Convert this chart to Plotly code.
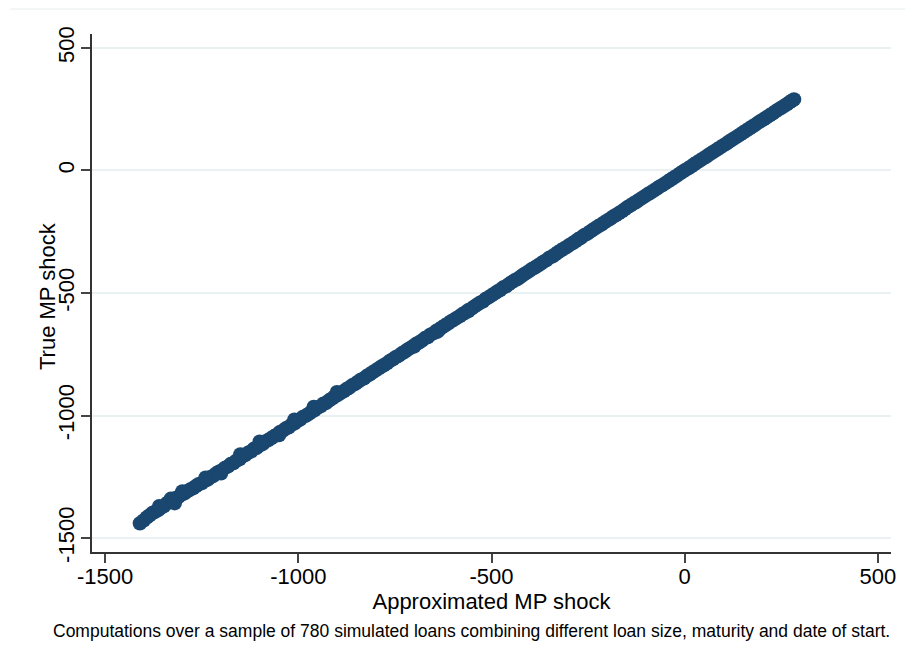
import plotly.graph_objects as go

# Approximated MP shock (x) vs True MP shock (y)
approx_shock = [
    -1410, -1400, -1392, -1385, -1378, -1370, -1362, -1355, -1348, -1340,
    -1332, -1325, -1318, -1310, -1302, -1295, -1288, -1280, -1272, -1265,
    -1258, -1250, -1242, -1235, -1228, -1220, -1212, -1205, -1198, -1190,
    -1182, -1175, -1168, -1160, -1152, -1145, -1138, -1130, -1122, -1115,
    -1108, -1100, -1092, -1085, -1078, -1070, -1062, -1055, -1048, -1040,
    -1032, -1025, -1018, -1010, -1002, -995, -988, -980, -972, -965,
    -958, -950, -942, -935, -928, -920, -912, -905, -898, -890,
    -882, -875, -868, -860, -852, -845, -838, -830, -822, -815,
    -808, -800, -792, -785, -778, -770, -762, -755, -748, -740,
    -732, -725, -718, -710, -702, -695, -688, -680, -672, -665,
    -658, -650, -642, -635, -628, -620, -612, -605, -598, -590,
    -582, -575, -568, -560, -552, -545, -538, -530, -522, -515,
    -508, -500, -492, -485, -478, -470, -462, -455, -448, -440,
    -432, -425, -418, -410, -402, -395, -388, -380, -372, -365,
    -358, -350, -342, -335, -328, -320, -312, -305, -298, -290,
    -282, -275, -268, -260, -252, -245, -238, -230, -222, -215,
    -208, -200, -192, -185, -178, -170, -162, -155, -148, -140,
    -132, -125, -118, -110, -102, -95, -88, -80, -72, -65,
    -58, -50, -42, -35, -28, -20, -12, -5, 2, 10,
    18, 25, 32, 40, 48, 55, 62, 70, 78, 85,
    92, 100, 108, 115, 122, 130, 138, 145, 152, 160,
    168, 175, 182, 190, 198, 205, 212, 220, 228, 235,
    242, 250, 258, 265, 272, 278, 283,
    -1360, -1330, -1300, -1240, -1150, -1100, -1010, -960, -900,
    -1320, -1200, -1050, -700, -640, -560,
]
true_shock = [
    -1440, -1428, -1416, -1408, -1398, -1392, -1385, -1376, -1370, -1358,
    -1353, -1345, -1338, -1332, -1322, -1318, -1310, -1302, -1296, -1288,
    -1280, -1276, -1266, -1262, -1252, -1246, -1236, -1229, -1224, -1214,
    -1208, -1198, -1194, -1184, -1178, -1166, -1162, -1152, -1146, -1136,
    -1132, -1122, -1116, -1106, -1100, -1092, -1084, -1078, -1068, -1062,
    -1052, -1048, -1038, -1032, -1022, -1016, -1006, -1000, -992, -984,
    -978, -968, -962, -952, -948, -938, -930, -922, -916, -908,
    -900, -892, -886, -876, -870, -862, -854, -848, -838, -832,
    -824, -816, -808, -800, -794, -786, -776, -770, -762, -756,
    -746, -740, -732, -724, -716, -708, -702, -694, -684, -680,
    -670, -664, -654, -648, -640, -632, -624, -616, -610, -602,
    -594, -586, -580, -570, -564, -556, -548, -540, -534, -524,
    -518, -510, -502, -494, -488, -478, -472, -464, -456, -448,
    -442, -434, -426, -418, -410, -402, -396, -388, -380, -372,
    -366, -356, -350, -342, -334, -326, -318, -312, -304, -296,
    -288, -280, -274, -264, -258, -250, -242, -234, -226, -220,
    -212, -204, -196, -188, -182, -174, -166, -158, -150, -142,
    -134, -128, -120, -112, -104, -96, -90, -82, -74, -66,
    -60, -52, -43, -36, -29, -21, -12, -5, 2, 10,
    18, 26, 33, 41, 49, 56, 64, 72, 80, 87,
    94, 102, 110, 118, 125, 133, 141, 148, 156, 164,
    172, 179, 186, 195, 203, 210, 217, 225, 233, 241,
    248, 256, 264, 271, 279, 285, 290,
    -1370, -1340, -1310, -1254, -1159, -1107, -1017, -965, -905,
    -1358, -1236, -1080, -718, -658, -574,
]

x_ticks = [-1500, -1000, -500, 0, 500]
y_ticks = [-1500, -1000, -500, 0, 500]
x_title = "Approximated MP shock"
y_title = "True MP shock"
caption = ("Computations over a sample of 780 simulated loans combining "
           "different loan size, maturity and date of start.")

FONT = "Liberation Sans, Arial, sans-serif"
NAVY = "#1a476f"

# page body has an 8px margin: figure pixel = screen pixel - 8
W, H = 913, 664
L, T = 84, 26
PW, PH = 799, 518          # plot area size


def px_x(sx):
    return (sx - 8 - L) / PW


def px_y(sy):
    return (T + PH - (sy - 8)) / PH


fig = go.Figure()
fig.add_trace(go.Scatter(
    x=approx_shock, y=true_shock, mode="markers",
    marker=dict(color=NAVY, size=14.5, line=dict(width=0)),
    showlegend=False, hoverinfo="x+y",
))

fig.update_layout(
    width=W, height=H,
    margin=dict(l=L, r=W - L - PW, t=T, b=H - T - PH, autoexpand=False),
    paper_bgcolor="white", plot_bgcolor="white",
    font=dict(family=FONT, color="black", size=22),
    showlegend=False,
    xaxis=dict(
        range=[-1534, 534], tickvals=x_ticks, ticktext=[str(v) for v in x_ticks],
        showgrid=False, zeroline=False,
        showline=True, linecolor="#333333", linewidth=1.5,
        ticks="outside", ticklen=9, tickwidth=1.5, tickcolor="#444444",
        tickfont=dict(size=22, family=FONT, color="black"),
        ticklabelstandoff=-5,
        title=dict(text=x_title, font=dict(size=22, family=FONT, color="black"), standoff=2),
    ),
    yaxis=dict(
        range=[-1557, 557], tickvals=y_ticks, ticktext=[str(v) for v in y_ticks],
        tickangle=-90,
        showgrid=True, gridcolor="#eaf1f3", gridwidth=1.5, zeroline=False,
        showline=True, linecolor="#333333", linewidth=1.5,
        ticks="outside", ticklen=9, tickwidth=1.5, tickcolor="#444444",
        tickfont=dict(size=22, family=FONT, color="black"),
        ticklabelstandoff=-2,
    ),
    annotations=[
        dict(
            text=y_title, xref="paper", yref="paper",
            x=px_x(47), y=px_y(296), textangle=-90,
            xanchor="center", yanchor="middle", showarrow=False,
            font=dict(size=22, family=FONT, color="black"),
        ),
        dict(
            text=caption, xref="paper", yref="paper",
            x=px_x(51), y=px_y(631),
            xanchor="left", yanchor="middle", showarrow=False,
            font=dict(size=17.5, family=FONT, color="black"),
        ),
    ],
    shapes=[dict(
        type="line", xref="paper", yref="paper",
        x0=px_x(10), x1=px_x(913),
        y0=px_y(9), y1=px_y(9),
        line=dict(color="#e6eef0", width=1),
    )],
)

fig.write_html("out.html")
